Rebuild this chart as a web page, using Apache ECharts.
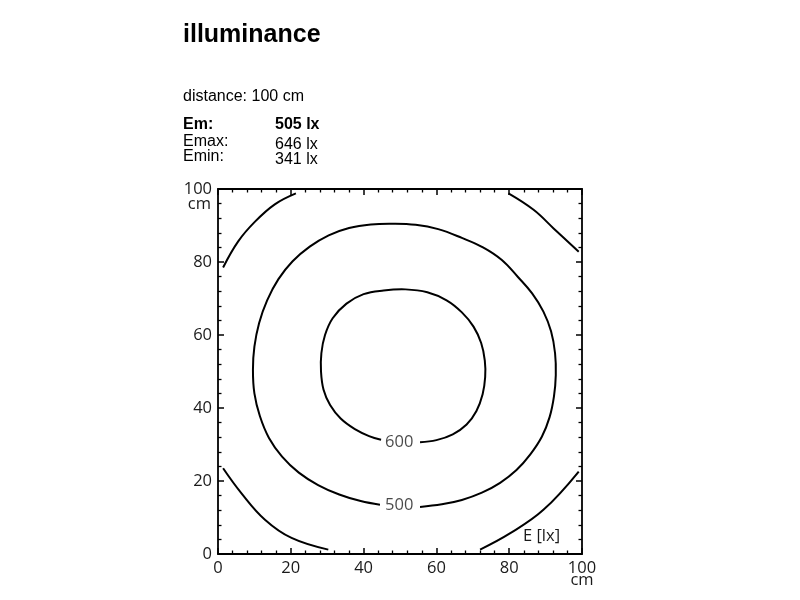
<!DOCTYPE html>
<html>
<head>
<meta charset="utf-8">
<script src="https://cdn.jsdelivr.net/npm/echarts@6/dist/echarts.min.js"></script>
<style>html,body{margin:0;padding:0;background:#fff}#c{width:800px;height:600px}</style>
</head>
<body>
<div id="c"></div>
<script>
// ---- data ----
var titleText = 'illuminance';
var distanceText = 'distance: 100 cm';
var statNames = ['Em:', 'Emax:', 'Emin:'];
var statValues = ['505 lx', '646 lx', '341 lx'];
var xTicks = [0, 20, 40, 60, 80, 100];
var yTicks = [0, 20, 40, 60, 80, 100];
var unitLabel = 'cm';
var legendLabel = 'E [lx]';

// contour lines (x cm, y cm)
var c400TopLeft = [[1.4,78.5],[5.5,85.6],[10.1,91],[15.6,95.8],[21.4,98.8]];
var c400TopRight = [[79.8,98.8],[86.7,94.3],[92.2,89.2],[99.1,82.8]];
var c400BottomLeft = [[1.4,23.5],[6.4,16.7],[12.9,9.4],[20.2,4.4],[30.3,1.2]];
var c400BottomRight = [[72,1.2],[80.3,5.7],[89.4,12.1],[99.1,22.6]];
var c500 = [[55.5,12.9],[61.5,13.6],[67,14.8],[72.5,16.8],[77.5,19.5],[82,23],[85.8,27.3],[89,32.2],[91.1,37.5],[92.3,43.2],[92.8,49],[92.6,55],[91.5,61],[89.4,66.4],[86.3,71.4],[82.4,75.9],[77.9,80.6],[72.8,84],[67,86.6],[60.5,89],[54.3,90.2],[48,90.5],[42,90.3],[36,89.3],[30.4,87.3],[25.2,84.2],[20.5,80.2],[16.6,75.3],[13.5,69.5],[11.3,63.3],[10,56.8],[9.6,50.5],[10,44],[11.5,37.8],[14,31.8],[17.6,26.7],[22.2,22.3],[27.5,18.9],[33.3,16.3],[39.2,14.5],[44.5,13.5]];
var c600 = [[55.5,30.6],[60,31.2],[64.5,32.8],[68.3,35.5],[71,39.2],[72.7,43.8],[73.4,48.5],[73.3,53],[72.3,57.8],[70.2,62.3],[67,66.2],[62.8,69.5],[57.5,71.7],[51.5,72.5],[45.5,72.2],[40,71.2],[35.3,68.6],[31.5,64.6],[29.4,60],[28.4,55],[28.3,50],[29,45],[30.8,40.8],[33.7,37.1],[37.6,34.2],[41.5,32.3],[44.8,31.3]];
var contourLabels = [[49.8,30.7,600],[49.8,13.3,500]];

var chart = echarts.init(document.getElementById('c'), null, {renderer:'canvas'});
var axisFont = 'Open Sans';
function contour(d){
  return {type:'custom', data:d, silent:true, animation:false, xAxisIndex:0, yAxisIndex:0,
    clip:false,
    renderItem:function(params, api){
      if (params.dataIndex !== 0) return null;
      var pts = d.map(function(p){ return api.coord(p); });
      return {type:'polyline', shape:{points:pts, smooth:0.4},
        style:{stroke:'#000', lineWidth:2, fill:null}, silent:true};
    }};
}
function axisCommon(pos, showLabel, isX){
  var ticks = isX ? xTicks : yTicks;
  return {
    type:'value', position:pos, min:ticks[0], max:ticks[ticks.length-1], interval:ticks[1]-ticks[0],
    axisLine:{show:true, onZero:false, lineStyle:{color:'#000', width:1.8}},
    axisTick:{show:true, inside:true, length:6, lineStyle:{color:'#000', width:1.5}},
    minorTick:{show:true, splitNumber:5, length:3.5, lineStyle:{color:'#000', width:1.3}},
    splitLine:{show:false}, minorSplitLine:{show:false},
    axisLabel:{show:showLabel, color:'#1a1a1a', fontFamily:axisFont, fontSize:16.5,
      margin: isX ? 8 : 6, lineHeight: isX ? 12 : 16,
      formatter: function(v){ return (isX && v === ticks[ticks.length-1]) ? v + '\n' + unitLabel : String(v); }}
  };
}
var xBottom = axisCommon('bottom', true, true);
var xTop = axisCommon('top', false, true);
var yLeft = axisCommon('left', true, false);
yLeft.name = unitLabel;
yLeft.nameLocation = 'end';
yLeft.nameGap = -15;
yLeft.nameMoveOverlap = false;
yLeft.nameTextStyle = {color:'#1a1a1a', fontFamily:axisFont, fontSize:16.5, align:'right', verticalAlign:'middle', padding:[0,7,0,0]};
var yRight = axisCommon('right', false, false);

var g = [];
g.push({type:'text', left:183, top:23, style:{text:titleText, font:'bold 25px "Liberation Sans", Arial', fill:'#000'}});
g.push({type:'text', left:183, top:89, style:{text:distanceText, font:'16px "Liberation Sans", Arial', fill:'#000'}});
var nameTops = [117, 134, 149];
var valTops = [117, 137, 152];
for (var i=0;i<statNames.length;i++){
  var bold = i===0 ? 'bold ' : '';
  g.push({type:'text', left:183, top:nameTops[i], style:{text:statNames[i], font:bold+'16px "Liberation Sans", Arial', fill:'#000'}});
  g.push({type:'text', left:275, top:valTops[i], style:{text:statValues[i], font:bold+'16px "Liberation Sans", Arial', fill:'#000'}});
}
g.push({type:'text', left:523, top:528, style:{text:legendLabel, font:'16.5px "Open Sans"', fill:'#1a1a1a'}});

chart.setOption({
  animation:false,
  backgroundColor:'#fff',
  grid:{left:218, right:218, top:189, bottom:46, containLabel:false},
  xAxis:[xBottom, xTop],
  yAxis:[yLeft, yRight],
  graphic:g,
  series:[
    contour(c400TopLeft), contour(c400TopRight), contour(c400BottomLeft), contour(c400BottomRight),
    contour(c500), contour(c600),
    {type:'scatter', data:contourLabels, symbolSize:0, silent:true, xAxisIndex:0, yAxisIndex:0,
     label:{show:true, position:'inside', color:'#1a1a1a', fontFamily:axisFont, fontSize:16.5,
       formatter:function(p){return String(p.value[2]);}}}
  ]
});
</script>
</body>
</html>
